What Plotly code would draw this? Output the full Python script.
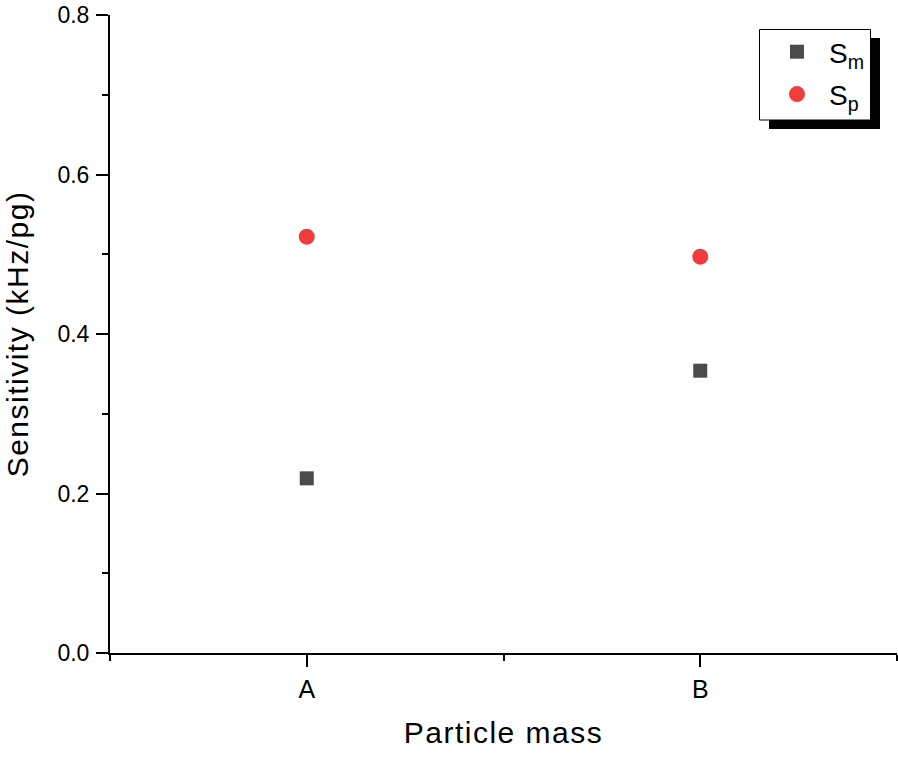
import plotly.graph_objects as go

categories = ["A", "B"]
cat_pos = [0, 1]
s_m = [0.219, 0.354]
s_p = [0.522, 0.497]
y_ticks = [0.0, 0.2, 0.4, 0.6, 0.8]

FONT = "Liberation Sans, Arial, sans-serif"

fig = go.Figure()
fig.add_trace(go.Scatter(
    x=cat_pos, y=s_m, mode="markers", name="S<sub>m</sub>", legendgroup="m",
    marker=dict(symbol="square", size=14, color="#4b4b4b", line=dict(width=0)),
))
fig.add_trace(go.Scatter(
    x=cat_pos, y=s_p, mode="markers", name="S<sub>p</sub>", legendgroup="p",
    marker=dict(symbol="circle", size=16, color="#f03c3c", line=dict(width=0)),
))

L, R, T, B = 110, 1, 15, 104
W, H = 898, 757
pw, ph = W - L - R, H - T - B

def px(x):
    return (x - L) / pw

def py(y):
    return (H - B - y) / ph

# legend shadow and box
fig.add_shape(type="rect", xref="paper", yref="paper",
              x0=px(769), x1=px(880), y0=py(129), y1=py(38),
              fillcolor="black", line=dict(width=0), layer="above")
fig.add_shape(type="rect", xref="paper", yref="paper",
              x0=px(759.5), x1=px(870.5), y0=py(120), y1=py(29.5),
              fillcolor="white", line=dict(width=1, color="black"), layer="above")

fig.update_layout(
    width=W, height=H,
    margin=dict(l=L, r=R, t=T, b=B),
    paper_bgcolor="white", plot_bgcolor="white",
    font=dict(family=FONT, color="black", size=22),
    showlegend=True,
    legend=dict(x=px(765), y=py(27), xanchor="left", yanchor="top",
                bgcolor="rgba(0,0,0,0)", borderwidth=0,
                font=dict(size=28, family=FONT), tracegroupgap=3,
                itemwidth=54, itemsizing="trace"),
    xaxis=dict(
        range=[-0.5, 1.5], tickmode="array", tickvals=cat_pos, ticktext=categories,
        showgrid=False, zeroline=False, showline=True, linecolor="black", linewidth=2,
        ticks="outside", ticklen=12, tickwidth=2, tickcolor="black",
        tickfont=dict(size=25), ticklabelstandoff=1,
        minor=dict(tickmode="array", tickvals=[-0.5, 0.5, 1.5], ticks="outside",
                   ticklen=6, tickwidth=2, tickcolor="black", showgrid=False),
        title=dict(text='<span style="letter-spacing:1.5px">Particle mass</span>',
                   font=dict(size=30), standoff=20),
    ),
    yaxis=dict(
        range=[0, 0.8], tickmode="array", tickvals=y_ticks, tickformat=".1f",
        showgrid=False, zeroline=False, showline=True, linecolor="black", linewidth=2,
        ticks="outside", ticklen=12, tickwidth=2, tickcolor="black",
        tickfont=dict(size=23), ticklabelstandoff=2,
        minor=dict(dtick=0.1, ticks="outside", ticklen=6, tickwidth=2,
                   tickcolor="black", showgrid=False),
        title=dict(text='<span style="letter-spacing:1.5px">Sensitivity (kHz/pg)</span>',
                   font=dict(size=30), standoff=20),
    ),
)

fig.write_html("out.html", config={"displayModeBar": False},
               post_script="document.body.style.margin='0';document.body.style.padding='0';")
